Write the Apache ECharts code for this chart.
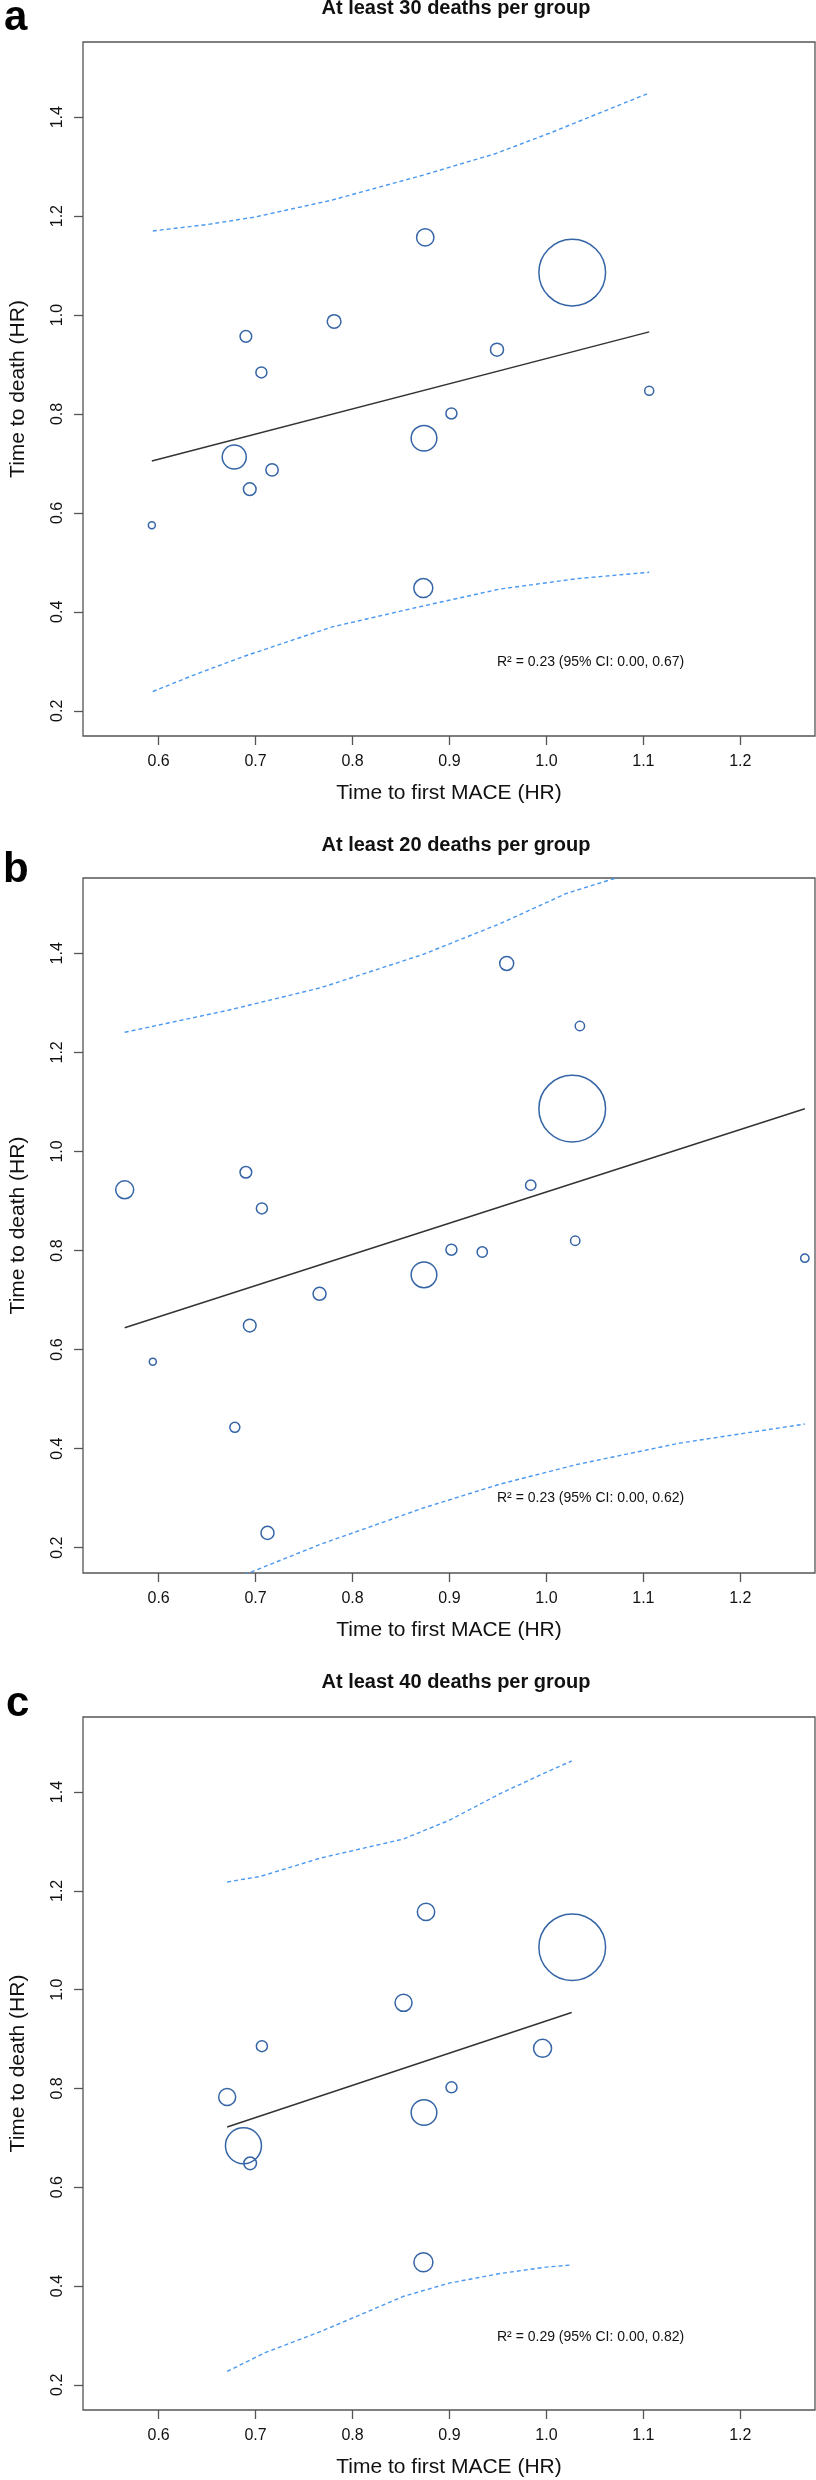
<!DOCTYPE html>
<html>
<head>
<meta charset="utf-8">
<script src="https://cdn.jsdelivr.net/npm/echarts@6/dist/echarts.min.js"></script>
<style>
html,body{margin:0;padding:0;background:#fff;}
#chart{width:816px;height:2480px;}
</style>
</head>
<body>
<div id="chart"></div>
<script>
// ---------- Data ----------
const panelLetters = ['a', 'b', 'c'];
const panelTitles = ['At least 30 deaths per group', 'At least 20 deaths per group', 'At least 40 deaths per group'];
const r2Labels = ['R\u00B2 = 0.23 (95% CI: 0.00, 0.67)', 'R\u00B2 = 0.23 (95% CI: 0.00, 0.62)', 'R\u00B2 = 0.29 (95% CI: 0.00, 0.82)'];
const xTicks = [0.6, 0.7, 0.8, 0.9, 1.0, 1.1, 1.2];
const yTicks = [0.2, 0.4, 0.6, 0.8, 1.0, 1.2, 1.4];
const xTitle = 'Time to first MACE (HR)';
const yTitle = 'Time to death (HR)';

// Panel a: study points (x = MACE HR, y = death HR, w = relative weight, largest = 100)
const aX = [0.593, 0.690, 0.706, 0.678, 0.694, 0.717, 0.781, 0.875, 1.0266, 0.949, 0.902, 0.8737, 1.106, 0.873];
const aY = [0.575, 0.957, 0.884, 0.713, 0.648, 0.687, 0.987, 1.157, 1.0859, 0.930, 0.801, 0.751, 0.847, 0.448];
const aW = [10.5, 17.5, 16.5, 36, 19, 18.5, 20.5, 26, 100, 19.5, 16.5, 38.5, 13.5, 28.5];
const aFitX = [0.593, 1.106];
const aFitY = [0.705, 0.966];
const aUpX = [0.594, 0.650, 0.699, 0.778, 0.873, 0.947, 1.005, 1.106];
const aUpY = [1.170, 1.183, 1.198, 1.232, 1.283, 1.326, 1.369, 1.449];
const aLoX = [0.594, 0.640, 0.688, 0.778, 0.873, 0.952, 1.031, 1.106];
const aLoY = [0.239, 0.275, 0.310, 0.369, 0.412, 0.446, 0.467, 0.480];

// Panel b
const bX = [0.565, 0.594, 0.690, 0.7065, 0.694, 0.6786, 0.7123, 0.766, 0.8737, 0.902, 0.9338, 0.959, 0.9838, 1.0266, 1.0345, 1.0297, 1.2665];
const bY = [0.9226, 0.5757, 0.958, 0.885, 0.6485, 0.443, 0.230, 0.7127, 0.751, 0.8016, 0.797, 1.3796, 0.932, 1.0863, 1.2533, 0.8198, 0.7845];
const bW = [27, 10.5, 17.5, 16.5, 19, 15, 19.5, 19.5, 38.5, 16.5, 15.5, 21, 15.5, 100, 14, 14, 12.5];
const bFitX = [0.565, 1.2665];
const bFitY = [0.644, 1.0863];
const bUpX = [0.565, 0.6728, 0.7677, 0.8731, 0.9522, 1.0208, 1.0735, 1.10];
const bUpY = [1.2405, 1.2855, 1.3307, 1.398, 1.4599, 1.521, 1.553, 1.585];
const bLoX = [0.675, 0.7677, 0.8731, 0.9522, 1.0313, 1.1368, 1.2665];
const bLoY = [0.135, 0.2075, 0.2803, 0.3285, 0.368, 0.411, 0.4497];

// Panel c
const cX = [0.6707, 0.6875, 0.6944, 0.7065, 0.8526, 0.8758, 0.8737, 0.9021, 0.8731, 0.996, 1.0266];
const cY = [0.7827, 0.6841, 0.6484, 0.8856, 0.9733, 1.1574, 0.7513, 0.8022, 0.448, 0.8812, 1.0859];
const cW = [25.5, 54, 19, 16.5, 25.5, 26, 38.5, 16.5, 28.5, 27, 100];
const cFitX = [0.6707, 1.026];
const cFitY = [0.722, 0.9538];
const cUpX = [0.6707, 0.7044, 0.7677, 0.852, 0.8995, 0.9522, 0.9997, 1.026];
const cUpY = [1.218, 1.229, 1.2668, 1.3047, 1.3426, 1.3968, 1.4401, 1.4629];
const cLoX = [0.6707, 0.7097, 0.7677, 0.852, 0.8995, 0.9522, 0.9997, 1.026];
const cLoY = [0.227, 0.265, 0.3083, 0.3787, 0.4058, 0.4253, 0.4383, 0.4426];

// ---------- Build ----------
const FONT = '"Liberation Sans", Arial, Helvetica, sans-serif';
const panels = [
  {x: aX, y: aY, w: aW, fx: aFitX, fy: aFitY, ux: aUpX, uy: aUpY, lx: aLoX, ly: aLoY},
  {x: bX, y: bY, w: bW, fx: bFitX, fy: bFitY, ux: bUpX, uy: bUpY, lx: bLoX, ly: bLoY},
  {x: cX, y: cY, w: cW, fx: cFitX, fy: cFitY, ux: cUpX, uy: cUpY, lx: cLoX, ly: cLoY}
];
const gridTops = [42, 878, 1717];
const gridHeights = [694, 695, 693];
const zip = (xs, ys) => xs.map((v, i) => [v, ys[i]]);

const grids = [], xAxes = [], yAxes = [], series = [], graphics = [];
const frameColor = '#555';
const titleY = [8, 845, 1682];
const letterY = [18.4, 870.4, 1704.7];
const letterX = [4, 3, 6];

panels.forEach((p, i) => {
  grids.push({left: 70, width: 745, top: gridTops[i], height: gridHeights[i], show: true,
    borderColor: frameColor, borderWidth: 1.3, backgroundColor: 'transparent'});
  xAxes.push({type: 'value', gridIndex: i, min: 0.522, max: 1.277,
    name: xTitle, nameLocation: 'middle', nameGap: 47,
    nameTextStyle: {fontFamily: FONT, fontSize: 21, color: '#111'},
    axisLine: {show: false},
    axisTick: {show: true, inside: false, length: 9, customValues: xTicks, lineStyle: {color: frameColor, width: 1.3}},
    axisLabel: {customValues: xTicks, margin: 18, fontFamily: FONT, fontSize: 16, color: '#111',
      formatter: v => v.toFixed(1)},
    splitLine: {show: false}});
  yAxes.push({type: 'value', gridIndex: i, min: 0.149, max: 1.552,
    name: yTitle, nameLocation: 'middle', nameGap: 54, nameRotate: 90,
    nameTextStyle: {fontFamily: FONT, fontSize: 21, color: '#111'},
    axisLine: {show: false},
    axisTick: {show: true, inside: false, length: 9, customValues: yTicks, lineStyle: {color: frameColor, width: 1.3}},
    axisLabel: {customValues: yTicks, margin: 17, rotate: 90, fontFamily: FONT, fontSize: 16, color: '#111',
      formatter: v => v.toFixed(1)},
    splitLine: {show: false}});

  const ciStyle = {color: '#4a98f0', width: 1.4, type: [4, 3]};
  series.push({type: 'line', xAxisIndex: i, yAxisIndex: i, data: zip(p.ux, p.uy), smooth: false,
    showSymbol: false, symbol: 'none', clip: true, silent: true, lineStyle: ciStyle});
  series.push({type: 'line', xAxisIndex: i, yAxisIndex: i, data: zip(p.lx, p.ly), smooth: false,
    showSymbol: false, symbol: 'none', clip: true, silent: true, lineStyle: ciStyle});
  series.push({type: 'line', xAxisIndex: i, yAxisIndex: i, data: zip(p.fx, p.fy),
    showSymbol: false, symbol: 'none', silent: true,
    lineStyle: {color: '#333', width: 1.5}});
  series.push({type: 'scatter', xAxisIndex: i, yAxisIndex: i,
    data: p.x.map((v, k) => [v, p.y[k], p.w[k]]),
    symbol: 'circle', symbolSize: d => d[2] * 0.667, silent: true,
    itemStyle: {color: 'rgba(0,0,0,0)', borderColor: '#3565a6', borderWidth: 1.5, opacity: 1}});

  graphics.push({type: 'text', x: 456, y: titleY[i],
    style: {text: panelTitles[i], font: 'bold 20px ' + FONT, fill: '#111', align: 'center', verticalAlign: 'middle'}});
  graphics.push({type: 'text', x: letterX[i], y: letterY[i],
    style: {text: panelLetters[i], font: 'bold 42px ' + FONT, fill: '#000', align: 'left', verticalAlign: 'middle'}});
  graphics.push({type: 'text', x: 497, y: gridTops[i] + 620,
    style: {text: r2Labels[i], font: '14px ' + FONT, fill: '#111', align: 'left', verticalAlign: 'middle'}});
});

const chart = echarts.init(document.getElementById('chart'), null, {renderer: 'canvas'});
chart.setOption({
  animation: false,
  backgroundColor: '#fff',
  grid: grids, xAxis: xAxes, yAxis: yAxes, series: series, graphic: graphics
});
</script>
</body>
</html>
